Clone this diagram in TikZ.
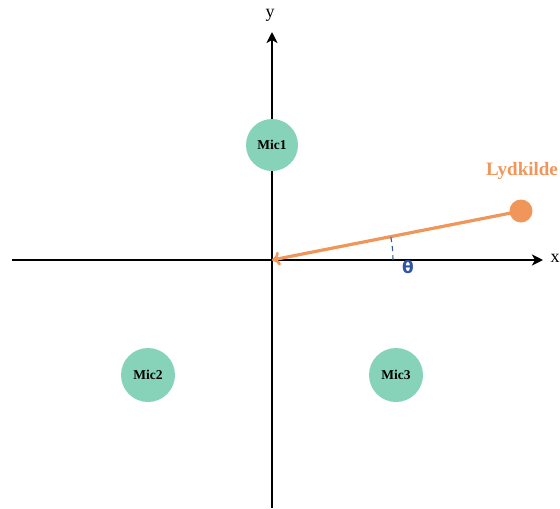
\documentclass[tikz,border=0pt]{standalone}
\usepackage{fontspec}
\setmainfont{Liberation Serif}
\newfontfamily\dejavu{DejaVu Sans}
\usetikzlibrary{arrows.meta}
\definecolor{mint}{HTML}{86D3B9}
\definecolor{srcorange}{HTML}{F0965A}
\definecolor{thetablue}{HTML}{2F55A4}
\begin{document}
\begin{tikzpicture}[x=1pt,y=-1pt,
  axis/.style={line width=2.8pt,-{Stealth[length=11pt,width=11pt,inset=3pt]}},
  mic/.style={circle,fill=mint,minimum size=52pt,inner sep=0pt,font=\bfseries\fontsize{13.5}{15}\selectfont},
  lbl/.style={font=\fontsize{18}{20}\selectfont}]
\useasboundingbox (0,0) rectangle (560,509);
\coordinate (O) at (272,260);
\coordinate (xs) at (12,260);
\coordinate (xe) at (543,260);
\coordinate (ys) at (272,508);
\coordinate (ye) at (272,32);
\draw[axis] (xs) -- (xe);
\draw[axis] (ys) -- (ye);
\node[lbl,anchor=west] (xl) at (547,258) {x};
\node[lbl] (yl) at (270,15) {y};
\node[mic] (m1) at (272,145) {Mic1};
\node[mic,minimum size=54pt] (m2) at (148,375) {Mic2};
\node[mic,minimum size=54pt] (m3) at (396,375) {Mic3};
\node[circle,fill=srcorange,minimum size=23pt,inner sep=0pt] (src) at (521,211) {};
\node[text=srcorange,font=\bfseries\fontsize{19}{21}\selectfont] (lyd) at (522,171) {Lydkilde};
\draw[srcorange,line width=3.2pt,-{To[length=8pt,width=14pt,line width=2.6pt]}] (src.center) -- (O);
\draw[thetablue,line width=1.1pt,dash pattern=on 5pt off 4pt] (O) ++(0:121) arc[start angle=0,end angle=-11.1,radius=121];
\node[text=thetablue,font=\dejavu\bfseries\fontsize{17}{19}\selectfont] (th) at (408,267) {θ};
\end{tikzpicture}
\end{document}
